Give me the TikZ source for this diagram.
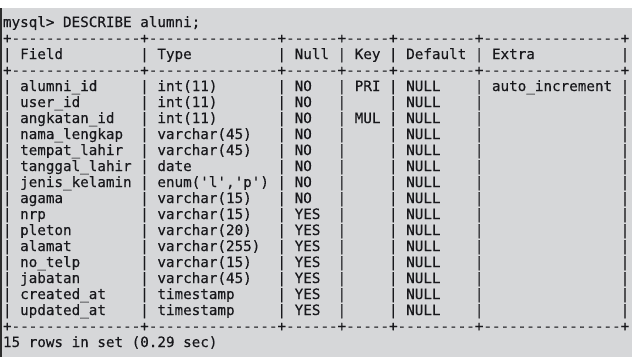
\documentclass[tikz,border=0pt]{standalone}
\usepackage{fontspec}
\setmonofont[FakeBold=0.35]{DejaVu Sans Mono}
\definecolor{termbg}{RGB}{214,215,217}
\definecolor{termfg}{RGB}{24,24,28}
\definecolor{termbar}{RGB}{45,45,45}
\newlength\cw
\AtBeginDocument{\settowidth{\cw}{\ttfamily\fontsize{14.25pt}{16pt}\selectfont x}}
\newcommand\cellpad[2]{\makebox[#1\cw][l]{#2}}
\newcommand\tblrow[6]{|~\cellpad{13}{#1}~|~\cellpad{13}{#2}~|~\cellpad{4}{#3}~|~\cellpad{3}{#4}~|~\cellpad{7}{#5}~|~\cellpad{14}{#6}~|}
\newcommand\tblsep{+---------------+---------------+------+-----+---------+----------------+}
\tikzset{
  termline/.style={anchor=base west, inner sep=0pt, outer sep=0pt, text=termfg,
    font=\ttfamily\fontsize{14.25pt}{16pt}\selectfont}
}
\begin{document}
\begin{tikzpicture}[x=1pt, y=-1pt]
\useasboundingbox (0,0) rectangle (632,357);
\fill[termbg] (0,0) rectangle (632,357);
\fill[white] (0,0) rectangle (632,8);
\fill[termbar] (0,8) rectangle (2,357);
\node[termline] (l0) at (3,27) {mysql>~DESCRIBE~alumni;};
\node[termline] (l1) at (3,43) {\tblsep};
\node[termline] (l2) at (3,59) {\tblrow{Field}{Type}{Null}{Key}{Default}{Extra}};
\node[termline] (l3) at (3,75) {\tblsep};
\node[termline] (r1) at (3,91) {\tblrow{alumni\_id}{int(11)}{NO}{PRI}{NULL}{auto\_increment}};
\node[termline] (r2) at (3,107) {\tblrow{user\_id}{int(11)}{NO}{}{NULL}{}};
\node[termline] (r3) at (3,123) {\tblrow{angkatan\_id}{int(11)}{NO}{MUL}{NULL}{}};
\node[termline] (r4) at (3,139) {\tblrow{nama\_lengkap}{varchar(45)}{NO}{}{NULL}{}};
\node[termline] (r5) at (3,155) {\tblrow{tempat\_lahir}{varchar(45)}{NO}{}{NULL}{}};
\node[termline] (r6) at (3,171) {\tblrow{tanggal\_lahir}{date}{NO}{}{NULL}{}};
\node[termline] (r7) at (3,187) {\tblrow{jenis\_kelamin}{enum('l','p')}{NO}{}{NULL}{}};
\node[termline] (r8) at (3,203) {\tblrow{agama}{varchar(15)}{NO}{}{NULL}{}};
\node[termline] (r9) at (3,219) {\tblrow{nrp}{varchar(15)}{YES}{}{NULL}{}};
\node[termline] (r10) at (3,235) {\tblrow{pleton}{varchar(20)}{YES}{}{NULL}{}};
\node[termline] (r11) at (3,251) {\tblrow{alamat}{varchar(255)}{YES}{}{NULL}{}};
\node[termline] (r12) at (3,267) {\tblrow{no\_telp}{varchar(15)}{YES}{}{NULL}{}};
\node[termline] (r13) at (3,283) {\tblrow{jabatan}{varchar(45)}{YES}{}{NULL}{}};
\node[termline] (r14) at (3,299) {\tblrow{created\_at}{timestamp}{YES}{}{NULL}{}};
\node[termline] (r15) at (3,315) {\tblrow{updated\_at}{timestamp}{YES}{}{NULL}{}};
\node[termline] (l19) at (3,331) {\tblsep};
\node[termline] (l20) at (3,347) {15~rows~in~set~(0.29~sec)};
\end{tikzpicture}
\end{document}
